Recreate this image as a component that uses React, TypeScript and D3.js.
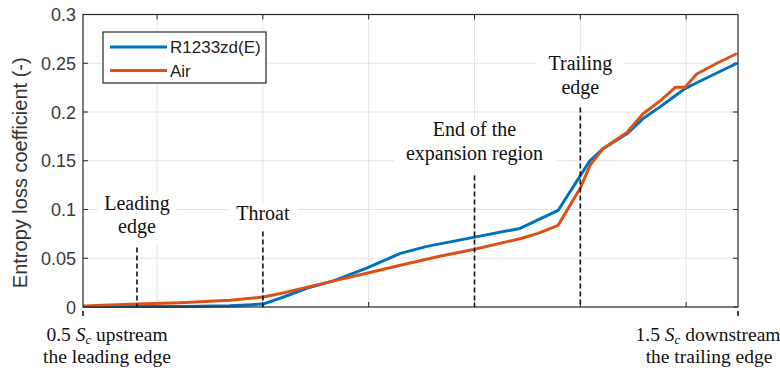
import React from "react";
import * as d3 from "d3";

// x positions in normalised streamwise units (ticks at 1..6)
const airX = [0.3, 0.81, 1.22, 1.69, 2.0, 2.19, 2.42, 2.66, 2.98, 3.3, 3.67, 3.99, 4.43, 4.6, 4.79, 5.0, 5.09, 5.21, 5.44, 5.59, 5.75, 5.9, 5.99, 6.1, 6.29, 6.48];
const airY = [0.001, 0.003, 0.0044, 0.007, 0.0102, 0.0143, 0.0204, 0.0265, 0.0347, 0.0429, 0.052, 0.059, 0.07, 0.0755, 0.0837, 0.122, 0.145, 0.162, 0.179, 0.198, 0.211, 0.2255, 0.2255, 0.239, 0.25, 0.26];

const refX = [0.3, 0.81, 1.22, 1.69, 2.0, 2.19, 2.42, 2.66, 2.98, 3.3, 3.55, 3.99, 4.43, 4.79, 5.0, 5.09, 5.21, 5.44, 5.59, 5.75, 5.9, 5.99, 6.1, 6.29, 6.48];
const refY = [0.0005, 0.0005, 0.0006, 0.0013, 0.003, 0.01, 0.0194, 0.0265, 0.0398, 0.055, 0.0622, 0.0714, 0.0806, 0.099, 0.1347, 0.15, 0.162, 0.1776, 0.193, 0.205, 0.217, 0.224, 0.23, 0.24, 0.25];

const yTicks = [0, 0.05, 0.1, 0.15, 0.2, 0.25, 0.3];
const yTickLabels = ["0", "0.05", "0.1", "0.15", "0.2", "0.25", "0.3"];
const xTicks = [1, 2, 3, 4, 5, 6];

const seriesNames = ["R1233zd(E)", "Air"];
const seriesColors = ["#0072BD", "#D95319"];

// annotation markers: x position, top value of dashed line, label lines
const markerX = [0.81, 2.0, 4.0, 5.0];
const markerTop = [0.061, 0.0775, 0.135, 0.2045];
const markerLabels = [["Leading", "edge"], ["Throat"], ["End of the", "expansion region"], ["Trailing", "edge"]];
const markerLabelTop = [0.1, 0.089, 0.175, 0.243];

export default function App() {
  const W = 780, H = 372;
  const left = 83, right = 738, top = 14.5, bottom = 307;
  const x = d3.scaleLinear().domain([0.3, 6.49]).range([left, right]);
  const y = d3.scaleLinear().domain([0, 0.3]).range([bottom, top]);
  const line = d3.line<[number, number]>().x(d => x(d[0])).y(d => y(d[1]));
  const refPts = refX.map((v, i) => [v, refY[i]] as [number, number]);
  const airPts = airX.map((v, i) => [v, airY[i]] as [number, number]);
  const serif = "'Liberation Serif', 'Times New Roman', serif";
  const sans = "'Liberation Sans', Arial, sans-serif";
  const lh = 23.5;

  return (
    <svg width={W} height={H} style={{ position: "absolute", left: 0, top: 0, background: "#fff" }}>
      <rect x={0} y={0} width={W} height={H} fill="#fff" />
      {/* grid */}
      {yTicks.slice(1, -1).map(t => (
        <line key={"gy" + t} x1={left} x2={right} y1={y(t)} y2={y(t)} stroke="#e3e3e3" strokeWidth={1} />
      ))}
      {xTicks.map(t => (
        <line key={"gx" + t} x1={x(t)} x2={x(t)} y1={top} y2={bottom} stroke="#e3e3e3" strokeWidth={1} />
      ))}
      {/* white boxes behind labels */}
      {markerLabels.map((lines, i) => {
        const w = Math.max(...lines.map(s => s.length)) * 9.2 + 14;
        const y0 = y(markerLabelTop[i]) - 17;
        return <rect key={"bg" + i} x={x(markerX[i]) - w / 2} y={y0} width={w} height={lines.length * lh + 4} fill="#fff" />;
      })}
      {/* ticks */}
      {yTicks.map(t => (
        <g key={"ty" + t}>
          <line x1={left} x2={left + 5} y1={y(t)} y2={y(t)} stroke="#262626" />
          <line x1={right} x2={right - 5} y1={y(t)} y2={y(t)} stroke="#262626" />
        </g>
      ))}
      {xTicks.map(t => (
        <g key={"tx" + t}>
          <line x1={x(t)} x2={x(t)} y1={bottom} y2={bottom - 5} stroke="#262626" />
          <line x1={x(t)} x2={x(t)} y1={top} y2={top + 5} stroke="#262626" />
        </g>
      ))}
      {/* series */}
      <path d={line(refPts) || ""} fill="none" stroke={seriesColors[0]} strokeWidth={3} strokeLinejoin="round" />
      <path d={line(airPts) || ""} fill="none" stroke={seriesColors[1]} strokeWidth={3} strokeLinejoin="round" />
      {/* axes box */}
      <rect x={left} y={top} width={right - left} height={bottom - top} fill="none" stroke="#262626" strokeWidth={1.2} />
      {/* y tick labels */}
      {yTicks.map((t, i) => (
        <text key={"yl" + t} x={left - 7} y={y(t) + 6.5} textAnchor="end" fontFamily={sans} fontSize={18} fill="#3a3a3a">
          {yTickLabels[i]}
        </text>
      ))}
      <text transform={`translate(27,${(top + bottom) / 2 + 12}) rotate(-90)`} textAnchor="middle" fontFamily={sans} fontSize={20} fill="#333">
        Entropy loss coefficient (-)
      </text>
      {/* dashed markers */}
      {markerX.map((m, i) => (
        <line key={"dm" + i} x1={x(m)} x2={x(m)} y1={y(markerTop[i])} y2={bottom} stroke="#111" strokeWidth={1.6} strokeDasharray="5,3" />
      ))}
      <line x1={left} x2={left} y1={bottom + 4} y2={bottom + 11} stroke="#111" strokeWidth={1.6} strokeDasharray="5,3" />
      <line x1={right} x2={right} y1={bottom + 4} y2={bottom + 11} stroke="#111" strokeWidth={1.6} strokeDasharray="5,3" />
      {/* marker labels */}
      {markerLabels.map((lines, i) =>
        lines.map((s, j) => (
          <text key={"ml" + i + "_" + j} x={x(markerX[i])} y={y(markerLabelTop[i]) + j * lh} textAnchor="middle" fontFamily={serif} fontSize={20} fill="#111">
            {s}
          </text>
        ))
      )}
      {/* end labels */}
      <text x={107} y={341} textAnchor="middle" fontFamily={serif} fontSize={19.5} fill="#111">
        0.5 <tspan fontStyle="italic">S</tspan><tspan fontStyle="italic" fontSize={13} dy={3}>c</tspan><tspan dy={-3}> upstream</tspan>
      </text>
      <text x={107} y={363} textAnchor="middle" fontFamily={serif} fontSize={19.5} fill="#111">the leading edge</text>
      <text x={708} y={341} textAnchor="middle" fontFamily={serif} fontSize={19.5} fill="#111">
        1.5 <tspan fontStyle="italic">S</tspan><tspan fontStyle="italic" fontSize={13} dy={3}>c</tspan><tspan dy={-3}> downstream</tspan>
      </text>
      <text x={709} y={363} textAnchor="middle" fontFamily={serif} fontSize={19.5} fill="#111">the trailing edge</text>
      {/* legend */}
      <rect x={103} y={32} width={163} height={51} fill="#fff" stroke="#262626" strokeWidth={1.2} />
      {seriesNames.map((n, i) => (
        <g key={n}>
          <line x1={110} x2={167} y1={47 + i * 23.5} y2={47 + i * 23.5} stroke={seriesColors[i]} strokeWidth={3} />
          <text x={170} y={47 + i * 23.5 + 6} fontFamily={sans} fontSize={17} fill="#222">{n}</text>
        </g>
      ))}
    </svg>
  );
}
